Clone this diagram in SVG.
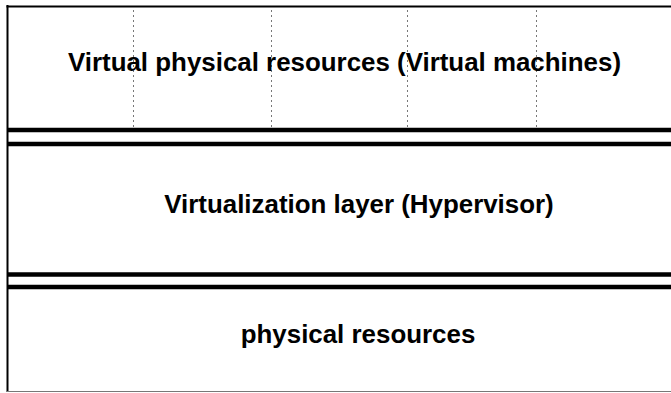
<svg xmlns="http://www.w3.org/2000/svg" width="671" height="393" viewBox="0 0 671 393">
<style>
.lbl{font-family:"Liberation Sans",Arial,sans-serif;font-weight:bold;font-size:25.9px;fill:#000}
.thick{stroke:#000;stroke-width:4.5;fill:none}
.dot{stroke:#777;stroke-width:1;stroke-dasharray:2 3;fill:none}
</style>
<rect width="671" height="393" fill="#fff"/>
<g id="frame">
<line x1="7.5" y1="5" x2="7.5" y2="392" stroke="#000" stroke-width="2"/>
<line x1="6.5" y1="6.5" x2="671" y2="6.5" stroke="#000" stroke-width="2"/>
<line x1="7" y1="391.5" x2="671" y2="391.5" stroke="#777" stroke-width="1"/>
</g>
<g id="vm-layer">
<line class="dot" x1="133.5" y1="10" x2="133.5" y2="127"/>
<line class="dot" x1="271.5" y1="10" x2="271.5" y2="127"/>
<line class="dot" x1="407.5" y1="10" x2="407.5" y2="127"/>
<line class="dot" x1="536.5" y1="10" x2="536.5" y2="127"/>
<text class="lbl" x="344.5" y="70.5" text-anchor="middle">Virtual physical resources (Virtual machines)</text>
</g>
<g id="separators">
<line class="thick" x1="7" y1="130" x2="671" y2="130"/>
<line class="thick" x1="7" y1="144" x2="671" y2="144"/>
<line class="thick" x1="7" y1="274.5" x2="671" y2="274.5"/>
<line class="thick" x1="7" y1="287" x2="671" y2="287"/>
</g>
<g id="hypervisor">
<text class="lbl" x="359" y="212.5" text-anchor="middle">Virtualization layer (Hypervisor)</text>
</g>
<g id="physical">
<text class="lbl" x="358" y="342.5" text-anchor="middle">physical resources</text>
</g>
</svg>
